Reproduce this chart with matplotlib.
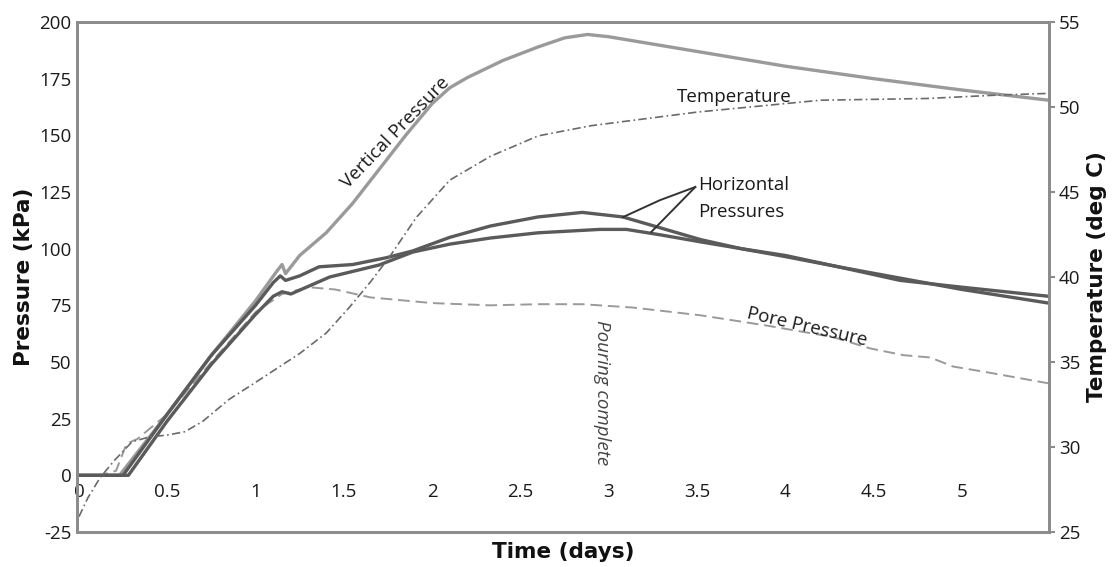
import matplotlib
matplotlib.use("Agg")
import matplotlib.pyplot as plt
import numpy as np

plt.rcParams['font.family'] = ['Open Sans', 'DejaVu Sans']
plt.rcParams['axes.unicode_minus'] = False

# ---- data ----
# vertical pressure (kPa)
t_vert = [0, 0.23, 0.5, 0.75, 1.0, 1.12, 1.15, 1.17, 1.25, 1.4, 1.55, 1.7, 1.85, 2.0,
          2.1, 2.2, 2.4, 2.6, 2.75, 2.88, 3.0, 3.5, 4.0, 4.5, 5.0, 5.49]
p_vert = [0, 0, 27, 53, 77, 90, 93, 89, 97, 107, 120, 135, 150, 164,
          171, 175.5, 183, 189, 193, 194.5, 193.5, 187, 180.5, 175, 170, 165.5]

# horizontal pressures (kPa), two gauges
t_hor1 = [0, 0.25, 0.5, 0.75, 1.0, 1.1, 1.14, 1.17, 1.25, 1.36, 1.55, 1.74, 1.89, 2.1,
          2.33, 2.6, 2.85, 3.08, 3.3, 3.52, 3.75, 4.0, 4.3, 4.65, 5.0, 5.49]
p_hor1 = [0, 0, 27, 53, 75, 85, 88, 86, 88, 92, 93, 96, 99, 105,
          110, 114, 116, 114, 109, 104, 100, 97, 92, 87, 82, 76]
t_hor2 = [0, 0.28, 0.5, 0.75, 1.0, 1.1, 1.15, 1.2, 1.42, 1.7, 1.89, 2.1, 2.33, 2.6,
          2.95, 3.1, 3.3, 3.52, 3.75, 4.0, 4.3, 4.65, 5.0, 5.49]
p_hor2 = [0, 0, 24, 49, 71, 79, 81, 80, 87.5, 92.8, 98.5, 102, 104.7, 107,
          108.5, 108.5, 106, 103, 100, 96.5, 92, 86, 83, 79]

# pore pressure (kPa)
t_pore = [0, 0.12, 0.21, 0.27, 0.33, 0.5, 0.75, 1.0, 1.15, 1.3, 1.45, 1.65, 2.0, 2.33,
          2.6, 2.85, 3.14, 3.52, 3.9, 4.27, 4.48, 4.67, 4.82, 4.95, 5.14, 5.49]
p_pore = [0, 0, 2, 14, 16, 27, 50, 72, 80, 83, 82, 78.5, 76, 75,
          75.5, 75.5, 74, 70.6, 66, 61, 56, 53, 52, 48, 45.5, 40.6]

# temperature (deg C)
t_temp = [0, 0.05, 0.12, 0.2, 0.3, 0.4, 0.5, 0.6, 0.7, 0.85, 1.0, 1.25, 1.4, 1.53,
          1.65, 1.76, 1.91, 2.1, 2.33, 2.6, 2.9, 3.5, 4.2, 4.8, 5.2, 5.49]
temp = [25.9, 27.0, 28.2, 29.2, 30.3, 30.6, 30.7, 30.9, 31.5, 32.8, 33.8, 35.5, 36.7, 38.2,
        39.7, 41.2, 43.5, 45.7, 47.1, 48.3, 48.9, 49.7, 50.4, 50.5, 50.7, 50.8]

x_ticks = [0, 0.5, 1, 1.5, 2, 2.5, 3, 3.5, 4, 4.5, 5]
x_labels = ['0', '0.5', '1', '1.5', '2', '2.5', '3', '3.5', '4', '4.5', '5']
p_ticks = [-25, 0, 25, 50, 75, 100, 125, 150, 175, 200]
temp_ticks = [25, 30, 35, 40, 45, 50, 55]

pour_day = 2.96

# ---- figure ----
fig = plt.figure(figsize=(11.17, 5.67), dpi=100)
ax = fig.add_axes([77 / 1117, 1 - 532 / 567, (1049 - 77) / 1117, (532 - 22) / 567])
ax2 = ax.twinx()

spine_col = '#8c8c8c'
for a in (ax, ax2):
    for s in a.spines.values():
        s.set_color(spine_col)
        s.set_linewidth(2.0)

ax.plot(t_vert, p_vert, color='#9a9a9a', lw=2.4, zorder=3)
ax.plot(t_hor1, p_hor1, color='#5a5a5a', lw=2.4, zorder=4)
ax.plot(t_hor2, p_hor2, color='#5a5a5a', lw=2.4, zorder=4)
ax.plot(t_pore, p_pore, color='#9a9a9a', lw=1.4, ls=(0, (6, 3)), zorder=2)
ax2.plot(t_temp, temp, color='#6a6a6a', lw=1.2, ls=(0, (5, 2, 1, 2)))

ax.set_xlim(-0.011, 5.493)
ax.set_ylim(-25, 200)
ax2.set_ylim(25, 55)

ax.set_xticks(x_ticks)
ax.set_xticklabels(x_labels)
ax.set_yticks(p_ticks)
ax2.set_yticks(temp_ticks)
ax.tick_params(axis='x', length=0, pad=-35, labelsize=13.5, labelcolor='#1a1a1a')
ax.tick_params(axis='y', length=0, pad=4, labelsize=13.5, labelcolor='#1a1a1a')
ax2.tick_params(axis='y', length=4, width=1.5, color=spine_col, pad=3,
                labelsize=13.5, labelcolor='#1a1a1a')

lab_font = dict(family='DejaVu Sans', fontweight='bold', fontsize=15.5, color='#111111')
ax.set_xlabel('Time (days)', **lab_font)
ax.xaxis.set_label_coords(0.5, -0.02)
ax.set_ylabel('Pressure (kPa)', **lab_font)
ax.yaxis.set_label_coords(-0.044, 0.5)
ax2.set_ylabel('Temperature (deg C)', **lab_font)
ax2.yaxis.set_label_coords(1.039, 0.5)

# annotations
ann = dict(fontsize=13.5, color='#1a1a1a')
ax.text(1.79, 151, 'Vertical Pressure', rotation=46, ha='center', va='center', **ann)
ax.text(3.71, 167, 'Temperature', rotation=0, ha='center', va='center', **ann)
ax.text(3.505, 128, 'Horizontal', ha='left', va='center', **ann)
ax.text(3.505, 116, 'Pressures', ha='left', va='center', **ann)
ax.text(4.12, 65.3, 'Pore Pressure', rotation=-13, ha='center', va='center', **ann)
ax.text(pour_day, 36.3, 'Pouring complete', rotation=270, ha='center', va='center',
        style='italic', fontsize=13.5, color='#444444')

ax.plot([3.49, 3.29, 3.08], [127.2, 121.4, 113.9], color='#333333', lw=1.4, zorder=5)
ax.plot([3.49, 3.24], [127.2, 107.3], color='#333333', lw=1.4, zorder=5)

fig.savefig('out.png', dpi=100)
